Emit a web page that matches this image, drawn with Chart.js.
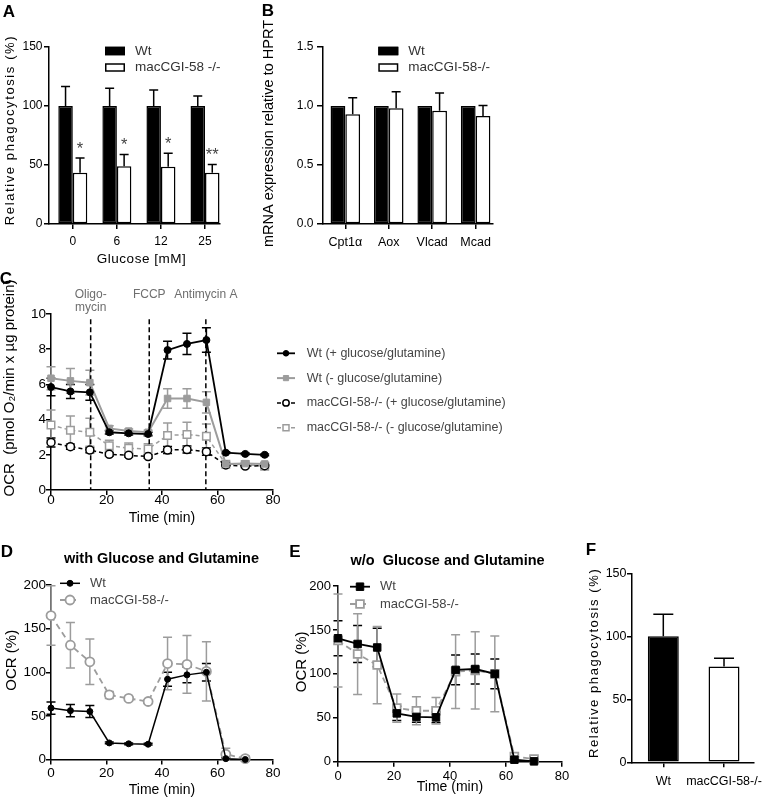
<!DOCTYPE html>
<html>
<head>
<meta charset="utf-8">
<script src="https://cdn.jsdelivr.net/npm/chart.js@4/dist/chart.umd.min.js"></script>
<style>
html,body{margin:0;padding:0;background:#fff;}
body{width:775px;height:803px;position:relative;overflow:hidden;font-family:"Liberation Sans",Arial,Helvetica,sans-serif;}
canvas{position:absolute;}
.t{position:absolute;transform:translate(-50%,-50%);line-height:1;white-space:pre;color:#000;font-weight:bold;}
</style>
</head>
<body>
<canvas id="cA" width="260" height="270" style="left:0;top:0"></canvas>
<canvas id="cB" width="260" height="270" style="left:260px;top:0"></canvas>
<canvas id="cC" width="560" height="255" style="left:0;top:270px"></canvas>
<canvas id="cD" width="285" height="278" style="left:0;top:525px"></canvas>
<canvas id="cE" width="295" height="278" style="left:280px;top:525px"></canvas>
<canvas id="cF" width="205" height="278" style="left:570px;top:525px"></canvas>

<div class="t" style="left:9px;top:11px;font-size:17px">A</div>
<div class="t" style="left:268px;top:10px;font-size:17px">B</div>
<div class="t" style="left:6px;top:278px;font-size:17px">C</div>
<div class="t" style="left:7px;top:551px;font-size:17px">D</div>
<div class="t" style="left:295px;top:551px;font-size:17px">E</div>
<div class="t" style="left:591px;top:549px;font-size:17px">F</div>
<div class="t" style="left:161.5px;top:557.5px;font-size:14.5px">with Glucose and Glutamine</div>
<div class="t" style="left:447.5px;top:560px;font-size:14.5px">w/o  Glucose and Glutamine</div>

<script>
// ================= DATA =================
// Panel A
const A_CATEGORIES = ['0', '6', '12', '25'];
const A_WT = [100, 100, 100, 100];
const A_WT_ERR = [16.5, 15, 13.5, 8.5];
const A_KO = [43.5, 49, 48.5, 43.5];
const A_KO_ERR = [12.5, 10, 11.5, 7];
const A_SIG = ['*', '*', '*', '**'];

// Panel B
const B_CATEGORIES = ['Cpt1\u03b1', 'Aox', 'Vlcad', 'Mcad'];
const B_WT = [1, 1, 1, 1];
const B_KO = [0.93, 0.98, 0.96, 0.915];
const B_KO_ERR = [0.14, 0.14, 0.15, 0.09];

// Panel C
const C_TIME = [0, 7, 14, 21, 28, 35, 42, 49, 56, 63, 70, 77];
const C_WT_PLUS = [5.85, 5.6, 5.55, 3.28, 3.22, 3.18, 7.95, 8.3, 8.52, 2.12, 2.05, 2.0];
const C_WT_PLUS_ERR = [0.5, 0.4, 0.45, 0.1, 0.1, 0.1, 0.5, 0.6, 0.7, 0.05, 0.05, 0.05];
const C_WT_MINUS = [6.35, 6.2, 6.1, 3.5, 3.35, 3.28, 5.2, 5.2, 4.98, 1.48, 1.5, 1.48];
const C_WT_MINUS_ERR = [0.65, 0.7, 0.7, 0.15, 0.12, 0.12, 0.55, 0.55, 0.6, 0.08, 0.08, 0.08];
const C_KO_PLUS = [2.7, 2.46, 2.27, 2.03, 1.97, 1.9, 2.27, 2.3, 2.18, 1.42, 1.36, 1.38];
const C_KO_PLUS_ERR = [0.25, 0.15, 0.15, 0.1, 0.1, 0.1, 0.2, 0.2, 0.2, 0.05, 0.05, 0.05];
const C_KO_MINUS = [3.69, 3.4, 3.28, 2.52, 2.37, 2.33, 3.1, 3.15, 3.05, 1.47, 1.45, 1.35];
const C_KO_MINUS_ERR = [0.85, 0.8, 0.8, 0.3, 0.3, 0.3, 0.7, 0.7, 0.7, 0.1, 0.1, 0.1];
const C_INJECT_TIMES = [14.3, 35.4, 55.8];
const C_INJECT_LABELS = [['Oligo-', 'mycin'], ['FCCP'], ['Antimycin A']];

// Panels D and E
const DE_TIME = [0, 7, 14, 21, 28, 35, 42, 49, 56, 63, 70];
const D_WT = [59, 56, 55, 19, 18, 17.5, 92, 97, 100, 1, 0];
const D_WT_ERR = [7, 7, 7, 1, 1, 1, 8, 9, 10, 1, 0.5];
const D_KO = [165, 131, 112, 74, 70, 66.5, 110, 109, 101, 6, 1];
const D_KO_ERR = [34, 26, 26, 4, 2, 2, 30, 33, 34, 7, 3];
const E_WT = [140.5, 134, 130, 55, 51, 50.5, 104.5, 105.5, 100, 2.3, 0.4];
const E_WT_ERR = [20, 21, 22, 8, 6, 6, 17, 17, 17, 1, 1];
const E_KO = [138, 122.5, 110, 61, 58, 58, 102.5, 104, 100, 6, 3];
const E_KO_ERR = [53, 46, 44, 16, 16, 15, 42, 44, 43, 4, 3];

// Panel F
const F_CATEGORIES = ['Wt', 'macCGI-58-/-'];
const F_VALUES = [100, 76];
const F_ERR = [17.5, 6.5];

// ================= SETUP =================
const FONT = '"Liberation Sans", Arial, Helvetica, sans-serif';
const GRAY = '#9c9c9c';
Chart.defaults.font.family = FONT;
Chart.defaults.color = '#000';
Chart.defaults.animation = false;
Chart.defaults.responsive = false;
Chart.defaults.maintainAspectRatio = false;
Chart.defaults.plugins.legend.display = false;
Chart.defaults.plugins.tooltip.enabled = false;

function drawErrors(chart, type) {
  const ctx = chart.ctx;
  chart.data.datasets.forEach((ds, i) => {
    if (!ds.errorBars) return;
    const meta = chart.getDatasetMeta(i);
    if (meta.type !== type || meta.hidden) return;
    const ys = chart.scales[meta.yAxisID];
    ctx.save();
    ctx.strokeStyle = ds.errorColor || ds.borderColor;
    ctx.lineWidth = ds.errorWidth || 1.5;
    ctx.setLineDash([]);
    meta.data.forEach((el, j) => {
      const e = ds.errorBars[j];
      if (!e) return;
      const v = meta.controller.getParsed(j).y;
      const x = el.x;
      const top = ys.getPixelForValue(v + e);
      const up = ds.errorMode === 'up';
      const bot = up ? ys.getPixelForValue(v) : ys.getPixelForValue(v - e);
      const cw = (ds.capWidth || 9) / 2;
      ctx.beginPath();
      ctx.moveTo(x, top); ctx.lineTo(x, bot);
      ctx.moveTo(x - cw, top); ctx.lineTo(x + cw, top);
      if (!up) { ctx.moveTo(x - cw, bot); ctx.lineTo(x + cw, bot); }
      ctx.stroke();
    });
    ctx.restore();
  });
}
const errorBarPlugin = {
  id: 'errorBars',
  beforeDatasetsDraw(chart) { drawErrors(chart, 'line'); },
  afterDatasetsDraw(chart) { drawErrors(chart, 'bar'); }
};

const titleAdjustPlugin = {
  id: 'titleAdjust',
  beforeDraw(chart, args, opts) {
    Object.keys(chart.scales).forEach(id => {
      const s = chart.scales[id];
      const cfg = opts ? opts[id] : undefined;
      if (!cfg || s.__adj) return;
      const dx = cfg.dx || 0, dy = cfg.dy || 0, sp = cfg.spacing || 0;
      const orig = s.drawTitle;
      s.drawTitle = function () {
        const ctx = this.ctx;
        ctx.save();
        ctx.translate(dx, dy);
        if (sp) ctx.letterSpacing = sp + 'px';
        orig.apply(this, arguments);
        ctx.restore();
      };
      s.__adj = true;
    });
  }
};

const lineLegendPlugin = {
  id: 'lineLegend',
  afterDraw(chart, args, o) {
    if (!o || o.x === undefined) return;
    const ctx = chart.ctx;
    ctx.save();
    chart.data.datasets.forEach((ds, i) => {
      const y = o.y + i * o.dy;
      ctx.strokeStyle = ds.borderColor;
      ctx.lineWidth = ds.borderWidth;
      ctx.setLineDash(ds.borderDash || []);
      ctx.beginPath(); ctx.moveTo(o.x, y); ctx.lineTo(o.x + o.len, y); ctx.stroke();
      ctx.setLineDash([]);
      ctx.fillStyle = ds.pointBackgroundColor;
      ctx.strokeStyle = ds.pointBorderColor;
      ctx.lineWidth = ds.pointBorderWidth;
      Chart.helpers.drawPoint(ctx, { pointStyle: ds.pointStyle, radius: ds.pointRadius * (o.markerScale || 1), borderWidth: ds.pointBorderWidth, rotation: 0 }, o.x + o.len / 2, y);
      ctx.fillStyle = o.textColor;
      ctx.font = o.textFont;
      ctx.textAlign = 'left';
      ctx.textBaseline = 'middle';
      ctx.fillText(ds.label, o.textX, y);
    });
    ctx.restore();
  }
};

const barLegendPlugin = {
  id: 'barLegend',
  afterDraw(chart, args, o) {
    if (!o || o.x === undefined) return;
    const ctx = chart.ctx;
    ctx.save();
    chart.data.datasets.forEach((ds, i) => {
      const cy = o.y + i * o.dy;
      ctx.fillStyle = ds.backgroundColor;
      ctx.fillRect(o.x, cy - o.h / 2, o.w, o.h);
      ctx.strokeStyle = ds.borderColor;
      ctx.lineWidth = 1.5;
      ctx.strokeRect(o.x + 0.75, cy - o.h / 2 + 0.75, o.w - 1.5, o.h - 1.5);
      ctx.fillStyle = o.textColor;
      ctx.font = o.textFont;
      ctx.textAlign = 'left';
      ctx.textBaseline = 'middle';
      ctx.fillText(ds.label, o.textX, cy);
    });
    ctx.restore();
  }
};

Chart.register(errorBarPlugin, titleAdjustPlugin, lineLegendPlugin, barLegendPlugin);

function gridOpts(tl) {
  return { display: true, drawOnChartArea: false, drawTicks: true, tickLength: tl, color: '#000', lineWidth: 1.5, offset: false };
}
const BORDER = { display: true, color: '#000', width: 1.5 };

function yAxis(c) {
  return {
    type: 'linear', position: 'left', min: c.min, max: c.max,
    afterFit: s => { s.width = c.width; },
    ticks: { stepSize: c.step, font: { size: c.tickSize, lineHeight: 1 }, padding: c.tickPad, color: '#000', callback: c.fmt || (v => v) },
    grid: gridOpts(c.tl || 5),
    border: BORDER,
    title: c.title ? { display: true, text: c.title, color: '#000', font: { size: c.titleSize, lineHeight: 1 }, padding: { top: c.titlePad, bottom: 0 } } : { display: false }
  };
}
function xLinear(c) {
  return {
    type: 'linear', position: 'bottom', min: c.min, max: c.max, offset: false,
    afterFit: s => { s.height = c.height; },
    ticks: { stepSize: c.step, font: { size: c.tickSize, lineHeight: 1 }, padding: c.tickPad, color: '#000', maxRotation: 0 },
    grid: gridOpts(c.tl || 5),
    border: BORDER,
    title: c.title ? { display: true, text: c.title, color: '#000', font: { size: c.titleSize, lineHeight: 1 }, padding: { top: 0, bottom: c.titlePad } } : { display: false }
  };
}
function xCategory(c) {
  return {
    type: 'linear', position: 'bottom', min: c.min, max: c.max, offset: false,
    afterFit: s => { s.height = c.height; },
    afterBuildTicks: s => { s.ticks = c.labels.map((_, i) => ({ value: i })); },
    ticks: { autoSkip: false, maxRotation: 0, font: { size: c.tickSize, lineHeight: 1 }, padding: c.tickPad, color: '#000', callback: v => c.labels[v] },
    grid: gridOpts(c.tl || 5),
    border: BORDER,
    title: c.title ? { display: true, text: c.title, color: '#000', font: { size: c.titleSize, lineHeight: 1 }, padding: { top: 0, bottom: c.titlePad } } : { display: false }
  };
}
const xy = (xs, ys) => ys.map((v, i) => ({ x: xs[i], y: v }));
const idx = (ys) => ys.map((v, i) => ({ x: i, y: v }));

// ================= PANEL A =================
new Chart(document.getElementById('cA'), {
  type: 'bar',
  data: {
    datasets: [
      { label: 'Wt', data: idx(A_WT), backgroundColor: '#000', borderColor: '#000', borderWidth: 1.5, borderSkipped: false,
        errorBars: A_WT_ERR, errorMode: 'up', capWidth: 9, categoryPercentage: 0.658, barPercentage: 1 },
      { label: 'macCGI-58 -/-', data: idx(A_KO), backgroundColor: '#fff', borderColor: '#000', borderWidth: 1.5, borderSkipped: false,
        errorBars: A_KO_ERR, errorMode: 'up', capWidth: 9, categoryPercentage: 0.658, barPercentage: 1 }
    ]
  },
  options: {
    layout: { padding: { left: 0, top: 47, right: 40, bottom: 0 } },
    scales: {
      x: xCategory({ labels: A_CATEGORIES, min: -0.54, max: 3.34, height: 46, tickSize: 12, tickPad: 7, title: 'Glucose [mM]', titleSize: 13.5, titlePad: 4.2 }),
      y: yAxis({ min: 0, max: 150, step: 50, width: 49, tickSize: 12, tickPad: 1.5, title: 'Relative phagocytosis (%)', titleSize: 13, titlePad: 4.3 })
    },
    plugins: {
      titleAdjust: { y: { spacing: 1.6, dy: -5.5 }, x: { dx: 7, spacing: 0.5 } },
      barLegend: { x: 105, y: 51, dy: 16.5, w: 20, h: 8.5, textX: 135, textFont: '13.5px ' + FONT, textColor: '#333' }
    }
  },
  plugins: [{
    id: 'aSig',
    afterDatasetsDraw(chart) {
      const ctx = chart.ctx, meta = chart.getDatasetMeta(1), ys = chart.scales.y;
      ctx.save();
      ctx.fillStyle = '#444';
      ctx.font = '16.5px ' + FONT;
      ctx.textAlign = 'center';
      ctx.textBaseline = 'alphabetic';
      meta.data.forEach((el, j) => {
        ctx.fillText(A_SIG[j], el.x, ys.getPixelForValue(A_KO[j] + A_KO_ERR[j]) - 4.4);
      });
      ctx.restore();
    }
  }]
});

// ================= PANEL B =================
new Chart(document.getElementById('cB'), {
  type: 'bar',
  data: {
    datasets: [
      { label: 'Wt', data: idx(B_WT), backgroundColor: '#000', borderColor: '#000', borderWidth: 1.5, borderSkipped: false,
        categoryPercentage: 0.68, barPercentage: 1 },
      { label: 'macCGI-58-/-', data: idx(B_KO), backgroundColor: '#fff', borderColor: '#000', borderWidth: 1.5, borderSkipped: false,
        errorBars: B_KO_ERR, errorMode: 'up', capWidth: 9, categoryPercentage: 0.68, barPercentage: 1 }
    ]
  },
  options: {
    layout: { padding: { left: 0, top: 47, right: 27, bottom: 0 } },
    scales: {
      x: xCategory({ labels: B_CATEGORIES, min: -0.514, max: 3.40, height: 46, tickSize: 12.5, tickPad: 7.5 }),
      y: yAxis({ min: 0, max: 1.5, step: 0.5, width: 63, tickSize: 12, tickPad: 3.5, tl: 6, fmt: v => Number(v).toFixed(1),
                 title: 'mRNA expression relative to HPRT', titleSize: 14.5, titlePad: 2 })
    },
    plugins: {
      titleAdjust: { y: { dy: -2 } },
      barLegend: { x: 118.3, y: 51, dy: 16.5, w: 20, h: 8.5, textX: 148.3, textFont: '13.5px ' + FONT, textColor: '#333' }
    }
  }
});

// ================= PANEL C =================
new Chart(document.getElementById('cC'), {
  type: 'line',
  data: {
    datasets: [
      { label: 'Wt (+ glucose/glutamine)', data: xy(C_TIME, C_WT_PLUS), borderColor: '#000', borderWidth: 1.8,
        pointStyle: 'circle', pointRadius: 3.5, pointBackgroundColor: '#000', pointBorderColor: '#000', pointBorderWidth: 1,
        errorBars: C_WT_PLUS_ERR, capWidth: 9, clip: false, tension: 0 },
      { label: 'Wt (- glucose/glutamine)', data: xy(C_TIME, C_WT_MINUS), borderColor: GRAY, borderWidth: 2,
        pointStyle: 'rect', pointRadius: 4.6, pointBackgroundColor: GRAY, pointBorderColor: GRAY, pointBorderWidth: 1,
        errorBars: C_WT_MINUS_ERR, capWidth: 9, clip: false, tension: 0 },
      { label: 'macCGI-58-/- (+ glucose/glutamine)', data: xy(C_TIME, C_KO_PLUS), borderColor: '#000', borderWidth: 1.5, borderDash: [4, 3],
        pointStyle: 'circle', pointRadius: 4, pointBackgroundColor: '#fff', pointBorderColor: '#000', pointBorderWidth: 1.5,
        errorBars: C_KO_PLUS_ERR, capWidth: 9, clip: false, tension: 0 },
      { label: 'macCGI-58-/- (- glucose/glutamine)', data: xy(C_TIME, C_KO_MINUS), borderColor: GRAY, borderWidth: 1.5, borderDash: [4, 3],
        pointStyle: 'rect', pointRadius: 5.3, pointBackgroundColor: '#fff', pointBorderColor: GRAY, pointBorderWidth: 1.5,
        errorBars: C_KO_MINUS_ERR, capWidth: 9, clip: false, tension: 0 }
    ]
  },
  options: {
    layout: { padding: { left: 0, top: 44, right: 287, bottom: 0 } },
    scales: {
      x: xLinear({ min: 0, max: 80, step: 20, height: 35, tickSize: 13.5, tickPad: -1.5, title: 'Time (min)', titleSize: 14, titlePad: 0 }),
      y: yAxis({ min: 0, max: 10, step: 2, width: 51, tickSize: 13.5, tickPad: 0, title: 'OCR  (pmol O\u2082/min x \u00b5g protein)', titleSize: 15, titlePad: 2.5 })
    },
    plugins: {
      titleAdjust: { y: { dy: -14 } },
      lineLegend: { x: 277, y: 83.3, dy: 24.8, len: 18, textX: 306.7, textFont: '12.5px ' + FONT, textColor: '#444', markerScale: 0.8 }
    }
  },
  plugins: [{
    id: 'cInject',
    beforeDatasetsDraw(chart) {
      const ctx = chart.ctx, xs = chart.scales.x, ys = chart.scales.y;
      ctx.save();
      ctx.strokeStyle = '#000';
      ctx.lineWidth = 1.5;
      ctx.setLineDash([5, 3]);
      C_INJECT_TIMES.forEach(t => {
        const px = xs.getPixelForValue(t);
        ctx.beginPath();
        ctx.moveTo(px, ys.getPixelForValue(9.7));
        ctx.lineTo(px, ys.getPixelForValue(0));
        ctx.stroke();
      });
      ctx.setLineDash([]);
      ctx.fillStyle = '#6e6e6e';
      ctx.font = '12px ' + FONT;
      ctx.textAlign = 'center';
      ctx.textBaseline = 'middle';
      C_INJECT_LABELS.forEach((lines, k) => {
        const px = xs.getPixelForValue(C_INJECT_TIMES[k]);
        lines.forEach((s, j) => ctx.fillText(s, px, chart.chartArea.top - 19 + j * 12.5));
      });
      ctx.restore();
    }
  }]
});

// ================= PANEL D =================
new Chart(document.getElementById('cD'), {
  type: 'line',
  data: {
    datasets: [
      { label: 'Wt', data: xy(DE_TIME, D_WT), borderColor: '#000', borderWidth: 1.5,
        pointStyle: 'circle', pointRadius: 3, pointBackgroundColor: '#000', pointBorderColor: '#000', pointBorderWidth: 1,
        errorBars: D_WT_ERR, capWidth: 9, clip: false, tension: 0 },
      { label: 'macCGI-58-/-', data: xy(DE_TIME, D_KO), borderColor: GRAY, borderWidth: 1.8, borderDash: [6, 4],
        pointStyle: 'circle', pointRadius: 4.5, pointBackgroundColor: '#fff', pointBorderColor: GRAY, pointBorderWidth: 1.8,
        errorBars: D_KO_ERR, capWidth: 9, clip: false, tension: 0 }
    ]
  },
  options: {
    layout: { padding: { left: 0, top: 60, right: 12, bottom: 0 } },
    scales: {
      x: xLinear({ min: 0, max: 80, step: 20, height: 43.5, tickSize: 13.5, tickPad: 2, title: 'Time (min)', titleSize: 14, titlePad: 6 }),
      y: yAxis({ min: 0, max: 200, step: 50, width: 51, tickSize: 13.5, tickPad: 0, title: 'OCR (%)', titleSize: 15, titlePad: 4 })
    },
    plugins: {
      titleAdjust: { y: { dy: -12 } },
      lineLegend: { x: 60, y: 58.3, dy: 16.7, len: 20, textX: 90, textFont: '13px ' + FONT, textColor: '#444' }
    }
  }
});

// ================= PANEL E =================
new Chart(document.getElementById('cE'), {
  type: 'line',
  data: {
    datasets: [
      { label: 'Wt', data: xy(DE_TIME, E_WT), borderColor: '#000', borderWidth: 1.8,
        pointStyle: 'rect', pointRadius: 5.3, pointBackgroundColor: '#000', pointBorderColor: '#000', pointBorderWidth: 1,
        errorBars: E_WT_ERR, capWidth: 9, clip: false, tension: 0 },
      { label: 'macCGI-58-/-', data: xy(DE_TIME, E_KO), borderColor: GRAY, borderWidth: 1.8, borderDash: [6, 4],
        pointStyle: 'rect', pointRadius: 5.5, pointBackgroundColor: '#fff', pointBorderColor: GRAY, pointBorderWidth: 1.8,
        errorBars: E_KO_ERR, capWidth: 9, clip: false, tension: 0 }
    ]
  },
  options: {
    layout: { padding: { left: 0, top: 61, right: 13, bottom: 0 } },
    scales: {
      x: xLinear({ min: 0, max: 80, step: 20, height: 41.3, tickSize: 13, tickPad: 2.8, title: 'Time (min)', titleSize: 14, titlePad: 9.3 }),
      y: yAxis({ min: 0, max: 200, step: 50, width: 58, tickSize: 13, tickPad: 2, title: 'OCR (%)', titleSize: 15, titlePad: 14.2 })
    },
    plugins: {
      titleAdjust: { y: { dy: -12 } },
      lineLegend: { x: 70, y: 61.7, dy: 17.3, len: 20, textX: 100, textFont: '13px ' + FONT, textColor: '#444' }
    }
  }
});

// ================= PANEL F =================
new Chart(document.getElementById('cF'), {
  type: 'bar',
  data: {
    datasets: [
      { label: 'Relative phagocytosis', data: idx(F_VALUES), backgroundColor: ['#000', '#fff'], borderColor: '#000', borderWidth: 1.5, borderSkipped: false,
        errorBars: F_ERR, errorMode: 'up', capWidth: 20, categoryPercentage: 0.51, barPercentage: 1 }
    ]
  },
  options: {
    layout: { padding: { left: 0, top: 48.3, right: 21, bottom: 0 } },
    scales: {
      x: xCategory({ labels: F_CATEGORIES, min: -0.524, max: 1.494, height: 40.7, tickSize: 12.5, tickPad: 8 }),
      y: yAxis({ min: 0, max: 150, step: 50, width: 61.5, tickSize: 12.5, tickPad: 0.5, tl: 4.5, title: 'Relative phagocytosis (%)', titleSize: 13, titlePad: 17.5 })
    },
    plugins: {
      titleAdjust: { y: { spacing: 1.6, dy: -5 } }
    }
  }
});
</script>
</body>
</html>
